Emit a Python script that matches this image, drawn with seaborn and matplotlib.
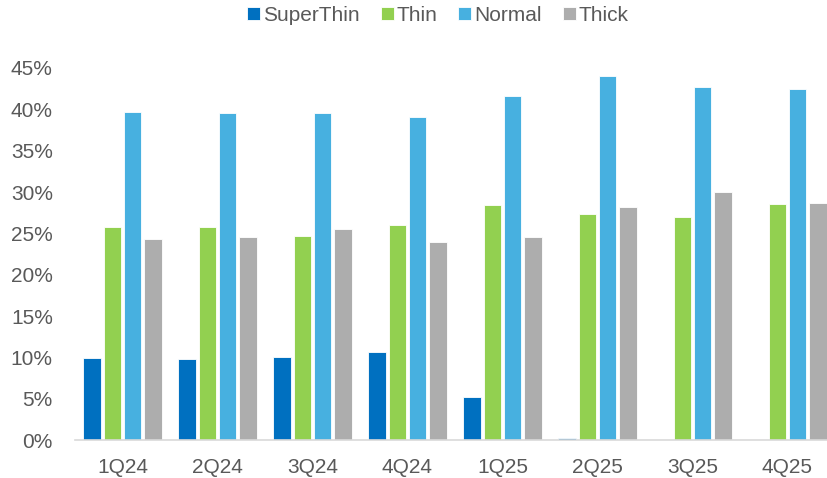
import pandas as pd
import numpy as np
import matplotlib
matplotlib.use("Agg")
import matplotlib.pyplot as plt
import seaborn as sns
from matplotlib.ticker import PercentFormatter

quarters = ["1Q24", "2Q24", "3Q24", "4Q24", "1Q25", "2Q25", "3Q25", "4Q25"]
types = ["SuperThin", "Thin", "Normal", "Thick"]
superthin = [9.9, 9.8, 10.0, 10.7, 5.2, 0.3, 0.0, 0.0]
thin = [25.8, 25.8, 24.7, 26.0, 28.4, 27.3, 27.0, 28.5]
normal = [39.7, 39.5, 39.5, 39.1, 41.6, 44.0, 42.7, 42.5]
thick = [24.3, 24.6, 25.5, 23.9, 24.5, 28.2, 30.0, 28.7]
colors = ["#0070C0", "#92D050", "#47B0E0", "#ADADAD"]

# long-form table for seaborn
rows = []
for t, vals in zip(types, [superthin, thin, normal, thick]):
    for q, v in zip(quarters, vals):
        rows.append({"quarter": q, "type": t, "share": v})
df = pd.DataFrame(rows)

sns.set_style("white")
plt.rcParams["font.family"] = ["Liberation Sans", "DejaVu Sans"]
text_col = "#595959"

fig = plt.figure(figsize=(8.28, 4.78), dpi=100)
ax = fig.add_axes([75 / 828, 38 / 478, 760 / 828, 372 / 478])

sns.barplot(data=df, x="quarter", y="share", hue="type", order=quarters,
            hue_order=types, palette=colors, width=0.85, gap=0.13,
            saturation=1, edgecolor="white", linewidth=0.6, ax=ax)

ax.set_ylim(0, 45)
ax.set_xlim(-0.5, 7.5)
ax.set_yticks(np.arange(0, 46, 5))
ax.yaxis.set_major_formatter(PercentFormatter(decimals=0))
ax.set_xlabel("")
ax.set_ylabel("")
ax.tick_params(axis="both", length=0, labelsize=15, colors=text_col)
ax.tick_params(axis="x", pad=13)
ax.tick_params(axis="y", pad=16)
for s in ["top", "right", "left"]:
    ax.spines[s].set_visible(False)
ax.spines["bottom"].set_color("#D9D9D9")
ax.spines["bottom"].set_linewidth(1.2)

handles, labels = ax.get_legend_handles_labels()
ax.get_legend().remove()
fig.legend(handles, labels, loc="upper center", bbox_to_anchor=(0.529, 1.027),
           ncol=4, frameon=False, fontsize=15, labelcolor=text_col,
           handlelength=0.62, handleheight=0.6, handletextpad=0.15,
           columnspacing=1.0)

fig.savefig("out.png", dpi=100)
